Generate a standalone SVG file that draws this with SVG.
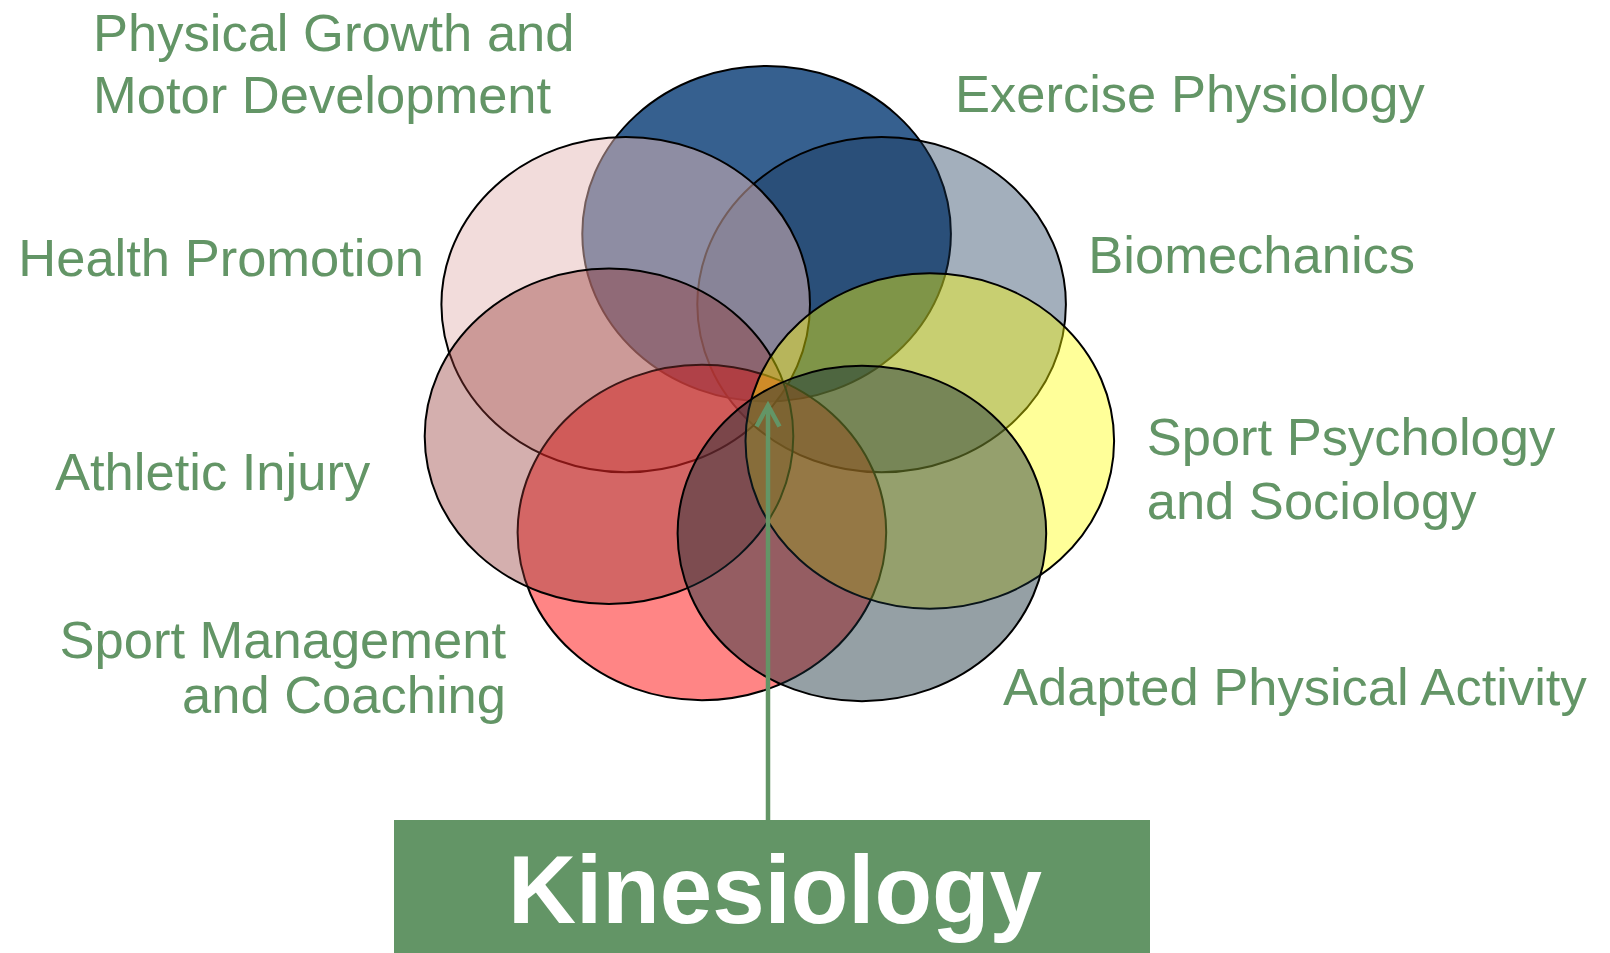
<svg xmlns="http://www.w3.org/2000/svg" width="1610" height="953" viewBox="0 0 1610 953">
<defs>
<style>
.c{stroke:#000;stroke-width:2}
.lbl{font-family:"Liberation Sans",Arial,sans-serif;font-size:52.5px;fill:#639566}
.k{font-family:"Liberation Sans",Arial,sans-serif;font-size:97px;font-weight:bold;fill:#fff}
</style>
<marker id="chev" markerUnits="userSpaceOnUse" viewBox="-26 -16 32 32" markerWidth="32" markerHeight="32" refX="0" refY="0" orient="auto" overflow="visible">
<path d="M-21,-11.5 L0,0 L-21,11.5" fill="none" stroke="#639566" stroke-width="4.5" stroke-linejoin="miter"/>
</marker>
</defs>
<rect width="1610" height="953" fill="#fff"/>
<g id="exercise-physiology">
<ellipse class="c" cx="766.6" cy="233.7" rx="184.3" ry="167.7" fill="#36608F"/>
<text class="lbl" x="955" y="111.7">Exercise Physiology</text>
</g>
<g id="biomechanics">
<ellipse class="c" cx="881.6" cy="304.6" rx="184.3" ry="167.7" fill="#193758" fill-opacity="0.4"/>
<text class="lbl" x="1088.3" y="273.3">Biomechanics</text>
</g>
<g id="health-promotion">
<ellipse class="c" cx="625.7" cy="304.6" rx="184.3" ry="167.7" fill="#E6B9B8" fill-opacity="0.5"/>
<text class="lbl" x="18.3" y="275.7">Health Promotion</text>
</g>
<g id="sport-management">
<ellipse class="c" cx="701.9" cy="532.5" rx="184.3" ry="167.7" fill="#FF0000" fill-opacity="0.48"/>
<text class="lbl" text-anchor="end" x="506" y="658.3">Sport Management</text>
<text class="lbl" text-anchor="end" x="506" y="713.3">and Coaching</text>
</g>
<g id="athletic-injury">
<ellipse class="c" cx="609" cy="436.3" rx="184.3" ry="167.7" fill="#943634" fill-opacity="0.4"/>
<text class="lbl" x="55" y="490">Athletic Injury</text>
</g>
<g id="sport-psychology">
<ellipse class="c" cx="929.8" cy="441" rx="184.3" ry="167.7" fill="#FFFF00" fill-opacity="0.4"/>
<text class="lbl" x="1146.7" y="455">Sport Psychology</text>
<text class="lbl" x="1146.7" y="519.3">and Sociology</text>
</g>
<g id="adapted-physical-activity">
<ellipse class="c" cx="861.9" cy="533.5" rx="184.3" ry="167.7" fill="#132C37" fill-opacity="0.45"/>
<text class="lbl" x="1003" y="704.5">Adapted Physical Activity</text>
</g>
<g id="physical-growth">
<text class="lbl" x="93" y="50.7">Physical Growth and</text>
<text class="lbl" x="93" y="113.3">Motor Development</text>
</g>
<g id="connectors">
<line x1="768" y1="820" x2="768" y2="405.5" stroke="#639566" stroke-width="4.5" marker-end="url(#chev)"/>
</g>
<g id="kinesiology">
<rect x="394" y="820" width="756" height="133" fill="#639566"/>
<text class="k" x="775" y="922.7" text-anchor="middle" textLength="534" lengthAdjust="spacingAndGlyphs">Kinesiology</text>
</g>
</svg>
